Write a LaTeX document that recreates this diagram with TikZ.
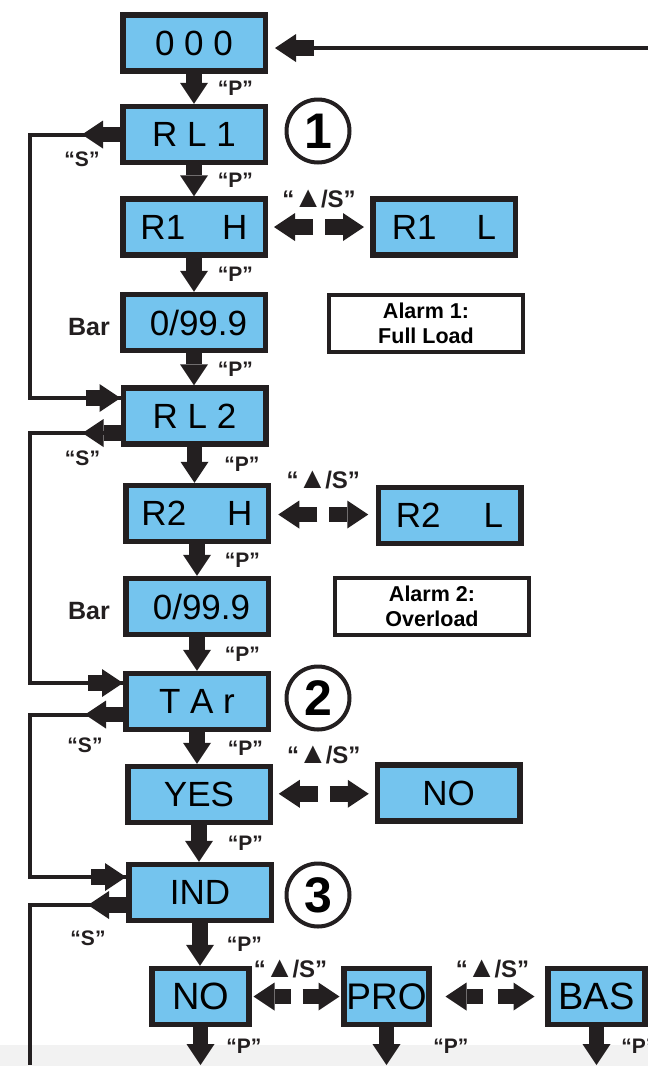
\documentclass[tikz,border=0pt]{standalone}
\usepackage{fontspec}
\setmainfont{Liberation Sans}
\usetikzlibrary{arrows.meta,positioning}
\definecolor{lcdblue}{RGB}{116,196,238}
\definecolor{ink}{RGB}{35,31,32}
\newcommand{\upsym}{\kern-1pt{\fontsize{30}{30}\selectfont ▲}\kern-2pt}

\begin{document}
\begin{tikzpicture}[x=1pt, y=-1pt,
    lcd/.style={draw=ink, line width=5.5pt, fill=lcdblue, minimum width=142.5pt, minimum height=56pt, inner sep=0pt, font=\fontsize{35}{40}\selectfont},
    note/.style={draw=ink, line width=4pt, fill=white, minimum width=194pt, minimum height=57pt, inner sep=0pt, align=center, font=\bfseries\fontsize{21.5}{25}\selectfont},
    num/.style={circle, draw=ink, line width=4pt, minimum size=63pt, inner sep=0pt, font=\bfseries\fontsize{50}{50}\selectfont},
    fat/.style={draw=ink, line width=15.5pt, -{Triangle[length=21pt 0 0, width=28pt 0 0, line width=0pt 0 0]}},
    wire/.style={draw=ink, line width=4pt},
    key/.style={inner sep=0pt, text=ink, font=\bfseries\fontsize{21}{21}\selectfont},
    upkey/.style={inner sep=0pt, text=ink, font=\bfseries\fontsize{24}{24}\selectfont},
]
    \fill[black!5] (0,1045) rectangle (648,1066);
    \useasboundingbox (0,0) rectangle (648,1066);

    \node[lcd] (b000) at (194,43) {0 0 0};
    \node[lcd] (rl1) at (194,134.5) {R L 1};
    \node[lcd] (r1h) at (194,227) {R1\hspace{37pt}H};
    \node[lcd] (r1l) at (444,227) {R1\hspace{40pt}L};
    \node[lcd] (bar1) at (194,322.5) {\hspace*{9pt}0/99.9};
    \node[note] (al1) at (426,323) {Alarm 1:\\Full Load};
    \node[lcd] (rl2) at (194.5,416) {R L 2};
    \node[lcd] (r2h) at (197,513.5) {R2\hspace{41pt}H};
    \node[lcd] (r2l) at (449.5,515.5) {R2\hspace{43pt}L};
    \node[lcd] (bar2) at (197,606.5) {\hspace*{9pt}0/99.9};
    \node[note] (al2) at (432,606.5) {Alarm 2:\\Overload};
    \node[lcd] (tar) at (197,701.5) {T A r};
    \node[lcd] (yes) at (199,794.5) {YES};
    \node[lcd] (no1) at (448.5,793) {NO};
    \node[lcd] (ind) at (200,892.5) {IND};
    \node[lcd, minimum width=97pt, font=\fontsize{38}{40}\selectfont] (no2) at (200.5,996.5) {NO};
    \node[lcd, minimum width=85pt, font=\fontsize{37}{40}\selectfont] (pro) at (386.5,996.5) {PRO};
    \node[lcd, minimum width=97pt, font=\fontsize{38}{40}\selectfont] (bas) at (596.5,996.5) {BAS};

    \node[num] (c1) at (318,131) {1};
    \node[num] (c2) at (318,698) {2};
    \node[num] (c3) at (318,895) {3};

    \node[key, font=\bfseries\fontsize{25}{25}\selectfont, left=10pt of bar1, yshift=-5pt] (bl1) {Bar};
    \node[key, font=\bfseries\fontsize{25}{25}\selectfont, left=13pt of bar2, yshift=-5pt] (bl2) {Bar};

    % "P" steps down the menu
    \coordinate (bot) at (0,1065);
    \draw[fat] (b000.south) -- (rl1.north) node[key, midway, right=16pt] {“P”};
    \draw[fat] (rl1.south) -- (r1h.north) node[key, midway, right=16pt] {“P”};
    \draw[fat] (r1h.south) -- (bar1.north) node[key, midway, right=16pt] {“P”};
    \draw[fat] (bar1.south) -- (bar1.south |- rl2.north) node[key, midway, right=16pt] {“P”};
    \draw[fat] (rl2.south) -- (rl2.south |- r2h.north) node[key, midway, right=22pt] {“P”};
    \draw[fat] (r2h.south) -- (bar2.north) node[key, midway, right=20pt] {“P”};
    \draw[fat] (bar2.south) -- (tar.north) node[key, midway, right=20pt] {“P”};
    \draw[fat] (tar.south) -- (tar.south |- yes.north) node[key, midway, right=23pt] {“P”};
    \draw[fat] (yes.south) -- (yes.south |- ind.north) node[key, midway, right=21pt] {“P”};
    \draw[fat] (ind.south) -- (ind.south |- no2.north) node[key, midway, right=19pt] {“P”};
    \draw[fat] (no2.south) -- (no2.south |- bot) node[key, midway, right=18pt] {“P”};
    \draw[fat] (pro.south) -- (pro.south |- bot) node[key, midway, right=39pt] {“P”};
    \draw[fat] (bas.south) -- (bas.south |- bot) node[key, midway, right=17pt] {“P”};

    % return to the start
    \coordinate (back) at (650,48);
    \coordinate (in0) at (b000.east |- back);
    \draw[wire] (back) -- ([xshift=46pt]in0);
    \draw[fat] ([xshift=46pt]in0) -- ([xshift=7pt]in0);

    % "S" skips to the next group
    \coordinate (rail) at (30,0);
    \draw[wire] (rl1.west) -- (rl1.west -| rail) |- ([yshift=18pt]rl2.west);
    \draw[wire] ([yshift=-17pt]rl2.west) -- ([yshift=-17pt]rl2.west -| rail) |- ([yshift=18.5pt]tar.west);
    \draw[wire] ([yshift=-13pt]tar.west) -- ([yshift=-13pt]tar.west -| rail) |- ([yshift=15.5pt]ind.west);
    \draw[wire] ([yshift=-12.5pt]ind.west) -- ([yshift=-12.5pt]ind.west -| rail) -- (rail |- bot);
    \draw[fat] (rl1.west) -- ++(-38,0) node[key, pos=1, yshift=-25pt] {“S”};
    \draw[fat] ([yshift=-17pt]rl2.west) -- ++(-38,0) node[key, pos=1, yshift=-25pt] {“S”};
    \draw[fat] ([yshift=-13pt]tar.west) -- ++(-38,0) node[key, pos=1, yshift=-31pt] {“S”};
    \draw[fat] ([yshift=-12.5pt]ind.west) -- ++(-38,0) node[key, pos=1, yshift=-33pt] {“S”};
    \draw[fat] ([xshift=-35pt,yshift=18pt]rl2.west) -- ([yshift=18pt]rl2.west);
    \draw[fat] ([xshift=-35pt,yshift=18.5pt]tar.west) -- ([yshift=18.5pt]tar.west);
    \draw[fat] ([xshift=-35pt,yshift=15.5pt]ind.west) -- ([yshift=15.5pt]ind.west);

    % up/S toggles
    \path (r1h) -- (r1l) coordinate[midway] (m1);
    \path (r2h) -- (r2l) coordinate[midway] (m2);
    \path (yes) -- (no1) coordinate[midway] (m3);
    \path (no2) -- (pro) coordinate[midway] (m4);
    \path (pro) -- (bas) coordinate[midway] (m5);
    \foreach \m in {m1,m2,m3} {
        \draw[fat] ([xshift=-6pt]\m) -- ++(-39,0);
        \draw[fat] ([xshift=6pt]\m) -- ++(39,0);
    }
    \draw[fat] ([xshift=-6pt]m4) -- ++(-37,0);
    \draw[fat] ([xshift=6pt]m4) -- ++(37,0);
    \draw[fat] ([xshift=-6pt]m5) -- ++(-37,0);
    \draw[fat] ([xshift=9pt]m5) -- ++(37,0);
    \path (r1h.north east) -- (r1l.north west) node[upkey, midway, anchor=base, yshift=-11pt] {“\upsym/S”};
    \path (r2h.north east) -- (r2l.north west) node[upkey, midway, anchor=base, yshift=-4.5pt] {“\upsym/S”};
    \path (yes.north east) -- (no1.north west) node[upkey, midway, anchor=base] {“\upsym/S”};
    \path (no2.north east) -- (pro.north west) node[upkey, midway, anchor=base, xshift=-6pt, yshift=-12pt] {“\upsym/S”};
    \path (pro.north east) -- (bas.north west) node[upkey, midway, anchor=base, xshift=4pt, yshift=-12pt] {“\upsym/S”};
\end{tikzpicture}
\end{document}
